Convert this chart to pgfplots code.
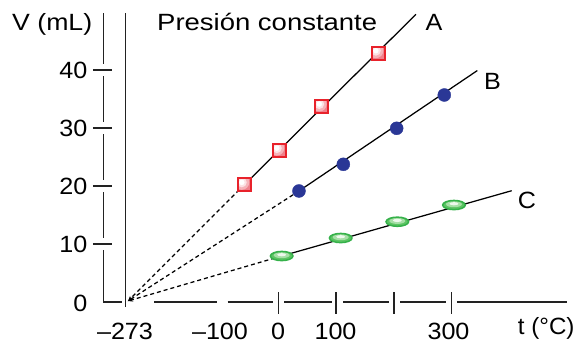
\documentclass[border=0pt]{standalone}
\usepackage{fontspec}
\setmainfont[FakeStretch=1.07]{Liberation Sans}
\usepackage{graphicx}
\usepackage{pgfplots}
\pgfplotsset{compat=1.18}
\usetikzlibrary{arrows.meta}

\definecolor{aRed}{HTML}{E8222B}
\definecolor{aPk1}{HTML}{F0808B}
\definecolor{aPk2}{HTML}{F6B3B9}
\definecolor{aPk3}{HTML}{FCE2E4}
\definecolor{bNavy}{HTML}{2A3796}
\definecolor{cGreen}{HTML}{35B14A}
\definecolor{cG1}{HTML}{5CC463}
\definecolor{cG2}{HTML}{A6DFA6}
\definecolor{cG3}{HTML}{EDF8EC}
\definecolor{axgray}{HTML}{222222}

\pgfdeclareplotmark{shsquare}{%
  \begin{pgfscope}
  \pgfpathrectangle{\pgfpoint{-6.5bp}{-6.5bp}}{\pgfpoint{13bp}{13bp}}%
  \pgfusepath{clip}%
  \pgfsetfillcolor{aPk1}\pgfpathrectangle{\pgfpoint{-7bp}{-7bp}}{\pgfpoint{14bp}{14bp}}\pgfusepath{fill}%
  \pgfsetfillcolor{aPk2}\pgfpathcircle{\pgfpoint{-2.5bp}{2.5bp}}{7.5bp}\pgfusepath{fill}%
  \pgfsetfillcolor{aPk3}\pgfpathcircle{\pgfpoint{-2.5bp}{2.5bp}}{5bp}\pgfusepath{fill}%
  \pgfsetfillcolor{white}\pgfpathcircle{\pgfpoint{-2.5bp}{2.5bp}}{2.8bp}\pgfusepath{fill}%
  \end{pgfscope}
  \pgfsetstrokecolor{aRed}\pgfsetlinewidth{2bp}%
  \pgfpathrectangle{\pgfpoint{-6.5bp}{-6.5bp}}{\pgfpoint{13bp}{13bp}}%
  \pgfusepath{stroke}}
\pgfdeclareplotmark{shellipse}{%
  \begin{pgfscope}
  \pgfsetfillcolor{cG1}\pgfpathellipse{\pgfpointorigin}{\pgfpoint{11.3bp}{0bp}}{\pgfpoint{0bp}{4.6bp}}\pgfusepath{fill}%
  \pgfsetfillcolor{cG2}\pgfpathellipse{\pgfpoint{0bp}{0.8bp}}{\pgfpoint{8bp}{0bp}}{\pgfpoint{0bp}{3bp}}\pgfusepath{fill}%
  \pgfsetfillcolor{cG3}\pgfpathellipse{\pgfpoint{0bp}{1.3bp}}{\pgfpoint{4.5bp}{0bp}}{\pgfpoint{0bp}{1.6bp}}\pgfusepath{fill}%
  \end{pgfscope}
  \pgfsetstrokecolor{cGreen}\pgfsetlinewidth{1.5bp}%
  \pgfpathellipse{\pgfpointorigin}{\pgfpoint{11.3bp}{0bp}}{\pgfpoint{0bp}{4.6bp}}%
  \pgfusepath{stroke}}

\begin{document}
\begin{tikzpicture}[every node/.style={inner sep=0pt, font=\fontsize{23.5bp}{28bp}\selectfont}]
\path[use as bounding box] (0,0) rectangle (580bp,344bp);
\begin{axis}[at={(103.3bp,42bp)}, anchor=south west, scale only axis,
  width=463.4bp, height=290bp,
  xmin=-303, xmax=499.4, ymin=0, ymax=50,
  axis lines=none, ticks=none, clip=false]

% axis lines (broken at ticks)
\draw[axgray, line width=1.5bp] (axis cs:-303,8.9) -- (axis cs:-303,0) -- (axis cs:-271.2,0);
\draw[axgray, line width=1.5bp] (axis cs:-303,11.1) -- (axis cs:-303,18.9);
\draw[axgray, line width=1.5bp] (axis cs:-303,21.1) -- (axis cs:-303,28.9);
\draw[axgray, line width=1.5bp] (axis cs:-303,31.1) -- (axis cs:-303,38.9);
\draw[axgray, line width=1.5bp] (axis cs:-303,41.1) -- (axis cs:-303,49.8);
\foreach \v in {10,20,30,40}{
  \edef\tmp{\noexpand\draw[axgray, line width=1.5bp] (axis cs:-320.9,\v) -- (axis cs:-288,\v);}\tmp
}
\draw[axgray, line width=1.5bp] (axis cs:-264.2,-0.9) -- (axis cs:-264.2,49.8);
\draw[axgray, line width=1.5bp] (axis cs:-214.4,0) -- (axis cs:-106.7,0);
\draw[axgray, line width=1.5bp] (axis cs:-87.6,0) -- (axis cs:-9.7,0);
\draw[axgray, line width=1.5bp] (axis cs:9.9,0) -- (axis cs:92.5,0);
\draw[axgray, line width=1.5bp] (axis cs:112.6,0) -- (axis cs:192.2,0);
\draw[axgray, line width=1.5bp] (axis cs:210.9,0) -- (axis cs:290.4,0);
\draw[axgray, line width=1.5bp] (axis cs:310,0) -- (axis cs:499.4,0);
\foreach \t in {0,100,200,300}{
  \edef\tmp{\noexpand\draw[axgray, line width=1.5bp] (axis cs:\t,1.72) -- (axis cs:\t,-2.07);}\tmp
}

% A
\addplot[black, line width=1.25bp, dash pattern=on 4bp off 3bp, -{Stealth[length=5bp,width=4bp]}] coordinates {(-58.9,20.2) (-260.3,0.17)};
\addplot[black, line width=1.25bp] coordinates {(-58.9,20.2) (238.4,49.6)};
\addplot[only marks, mark=shsquare] coordinates {(-58.9,20.2) (1.7,26.1) (75.2,33.7) (173.2,42.9)};
% B
\addplot[black, line width=1.25bp, dash pattern=on 4bp off 3bp, -{Stealth[length=5bp,width=4bp]}] coordinates {(35.8,19.14) (-260.3,0.17)};
\addplot[black, line width=1.25bp] coordinates {(35.8,19.14) (344.6,39.9)};
\addplot[only marks, mark=*, mark size=6.5bp, mark options={draw=bNavy, fill=bNavy}] coordinates {(35.8,19.14) (112.6,23.74) (205.0,29.95) (287.4,35.69)};
% C
\addplot[black, line width=1.25bp, dash pattern=on 4bp off 3bp, -{Stealth[length=5bp,width=4bp]}] coordinates {(5.9,7.93) (-260.3,0.17)};
\addplot[black, line width=1.25bp] coordinates {(5.9,7.93) (404.2,19.19)};
\addplot[only marks, mark=shellipse] coordinates {(5.9,7.93) (108.1,11.03) (206.1,13.84) (304.2,16.72)};
\end{axis}

% texts
\node[anchor=base west] at (12bp,313.5bp) {\resizebox{80bp}{\height}{V (mL)}};
\node[anchor=base west] at (157bp,313.5bp) {\resizebox{220bp}{\height}{Presión constante}};
\node at (434bp,321.5bp) {A};
\node at (492.5bp,263bp) {B};
\node at (527bp,143.5bp) {C};
\node[anchor=base west] at (517.7bp,9.7bp) {\resizebox{56.6bp}{\height}{t (°C)}};
\node[anchor=base] at (125bp,4.7bp) {–273};
\node[anchor=base] at (220bp,4.7bp) {–100};
\node[anchor=base] at (278bp,4.7bp) {0};
\node[anchor=base] at (335.5bp,4.7bp) {100};
\node[anchor=base] at (448.5bp,4.7bp) {300};
\node[anchor=east] at (87.5bp,274bp) {40};
\node[anchor=east] at (87.5bp,216bp) {30};
\node[anchor=east] at (87.5bp,158bp) {20};
\node[anchor=east] at (87.5bp,100bp) {10};
\node[anchor=east] at (87.5bp,41bp) {0};
\end{tikzpicture}
\end{document}
